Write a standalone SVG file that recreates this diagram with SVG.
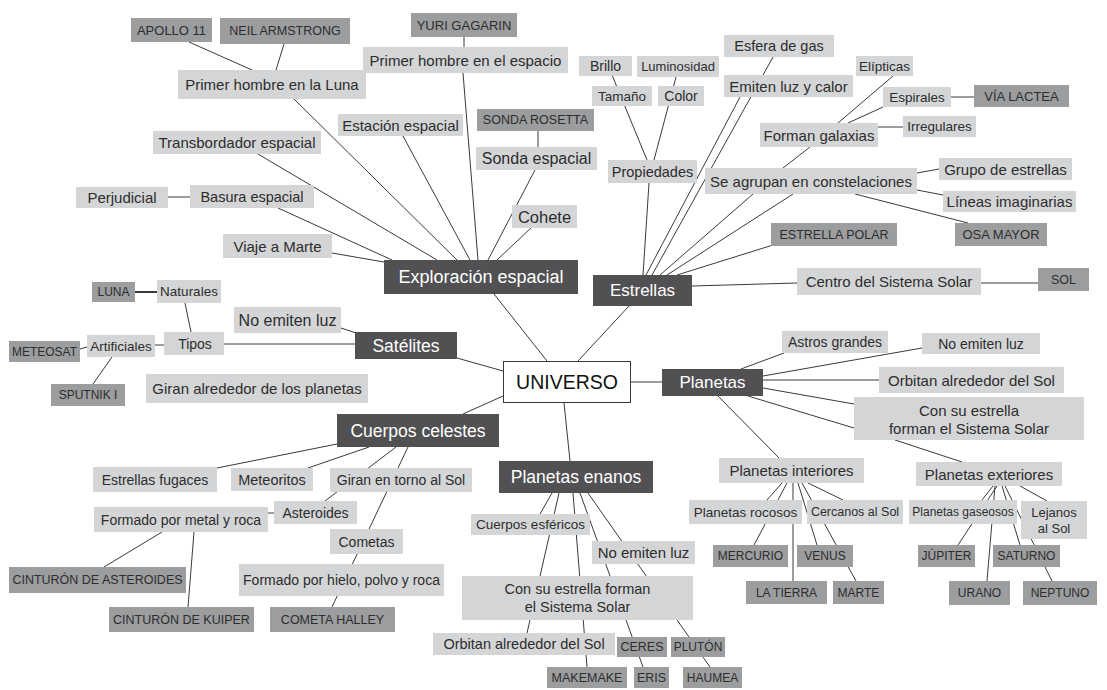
<svg xmlns="http://www.w3.org/2000/svg" width="1107" height="690" viewBox="0 0 1107 690">
<style>
.l{fill:#d4d5d6}
.d{fill:#9c9d9f}
.m{fill:#515153}
.u{fill:#fff;stroke:#3a3a3a;stroke-width:1}
#connectors line{stroke:#3a3a3a;stroke-width:1}
text{font-family:"Liberation Sans",Arial,sans-serif;text-anchor:middle;dominant-baseline:central;fill:#2d2d2d}
text.w{fill:#fff}
.f12{font-size:12px}.f125{font-size:12.5px}.f13{font-size:13px}.f135{font-size:13.5px}.f14{font-size:14px}.f145{font-size:14.5px}.f15{font-size:15px}.f16{font-size:16px}.f165{font-size:16.5px}.f17{font-size:17px}.f175{font-size:17.5px}.f18{font-size:18px}.f195{font-size:19.5px}
</style>
<rect width="1107" height="690" fill="#fff"/>
<g id="connectors">
<line x1="189" y1="42" x2="252" y2="70"/>
<line x1="284" y1="44" x2="276" y2="70"/>
<line x1="294" y1="99" x2="457" y2="260"/>
<line x1="464" y1="37" x2="464" y2="47"/>
<line x1="463" y1="73" x2="478" y2="260"/>
<line x1="403" y1="136" x2="470" y2="260"/>
<line x1="258" y1="154" x2="437" y2="260"/>
<line x1="168" y1="197" x2="190" y2="197"/>
<line x1="278" y1="208" x2="392" y2="260"/>
<line x1="538" y1="131" x2="538" y2="147"/>
<line x1="535" y1="170" x2="488" y2="260"/>
<line x1="532" y1="227" x2="497" y2="260"/>
<line x1="332" y1="253" x2="384" y2="262"/>
<line x1="494" y1="294" x2="547" y2="361"/>
<line x1="457" y1="358" x2="503" y2="371"/>
<line x1="341" y1="328" x2="356" y2="333"/>
<line x1="224" y1="344" x2="355" y2="344"/>
<line x1="130" y1="292" x2="157" y2="292" style="stroke-width:2"/>
<line x1="185" y1="303" x2="191" y2="332"/>
<line x1="155" y1="345" x2="164" y2="345"/>
<line x1="80" y1="349" x2="87" y2="347"/>
<line x1="112" y1="357" x2="93" y2="384"/>
<line x1="463" y1="414" x2="503" y2="396"/>
<line x1="337" y1="444" x2="217" y2="468"/>
<line x1="369" y1="447" x2="308" y2="468"/>
<line x1="396" y1="447" x2="325" y2="501"/>
<line x1="408" y1="447" x2="332" y2="607"/>
<line x1="268" y1="513" x2="274" y2="513"/>
<line x1="162" y1="532" x2="104" y2="567"/>
<line x1="194" y1="532" x2="188" y2="607"/>
<line x1="564" y1="403" x2="570" y2="461"/>
<line x1="552" y1="493" x2="540" y2="514"/>
<line x1="559" y1="493" x2="527" y2="633"/>
<line x1="573" y1="493" x2="587" y2="667"/>
<line x1="580" y1="493" x2="643" y2="667"/>
<line x1="588" y1="493" x2="710" y2="667"/>
<line x1="578" y1="361" x2="629" y2="306"/>
<line x1="649" y1="183" x2="643" y2="275"/>
<line x1="612" y1="75" x2="647" y2="160"/>
<line x1="676" y1="77" x2="654" y2="160"/>
<line x1="773" y1="57" x2="652" y2="275"/>
<line x1="740" y1="97" x2="646" y2="275"/>
<line x1="753" y1="194" x2="660" y2="275"/>
<line x1="793" y1="194" x2="667" y2="275"/>
<line x1="773" y1="245" x2="677" y2="275"/>
<line x1="692" y1="286" x2="797" y2="283"/>
<line x1="981" y1="283" x2="1038" y2="283"/>
<line x1="783" y1="168" x2="810" y2="147"/>
<line x1="838" y1="123" x2="893" y2="76"/>
<line x1="848" y1="123" x2="883" y2="107"/>
<line x1="878" y1="127" x2="903" y2="127"/>
<line x1="951" y1="97" x2="974" y2="97"/>
<line x1="917" y1="173" x2="939" y2="169"/>
<line x1="917" y1="190" x2="943" y2="195"/>
<line x1="855" y1="194" x2="968" y2="223"/>
<line x1="631" y1="382" x2="662" y2="382"/>
<line x1="741" y1="369" x2="784" y2="353"/>
<line x1="763" y1="376" x2="922" y2="348"/>
<line x1="763" y1="380" x2="879" y2="380"/>
<line x1="763" y1="388" x2="854" y2="404"/>
<line x1="748" y1="396" x2="854" y2="428"/>
<line x1="718" y1="396" x2="779" y2="458"/>
<line x1="895" y1="440" x2="962" y2="462"/>
<line x1="782" y1="483" x2="767" y2="500"/>
<line x1="787" y1="483" x2="754" y2="545"/>
<line x1="793" y1="483" x2="793" y2="581"/>
<line x1="798" y1="483" x2="817" y2="545"/>
<line x1="802" y1="483" x2="856" y2="581"/>
<line x1="808" y1="483" x2="843" y2="500"/>
<line x1="993" y1="486" x2="982" y2="500"/>
<line x1="997" y1="486" x2="958" y2="545"/>
<line x1="995" y1="486" x2="987" y2="581"/>
<line x1="1002" y1="486" x2="1020" y2="545"/>
<line x1="1005" y1="486" x2="1052" y2="581"/>
<line x1="1020" y1="486" x2="1047" y2="501"/>
</g>
<g id="n_apollo"><rect class="d" x="131" y="18" width="81" height="24"/><text class="f13" x="171.5" y="30">APOLLO 11</text></g>
<g id="n_neil"><rect class="d" x="220" y="18" width="130" height="26"/><text class="f125" x="285" y="31">NEIL ARMSTRONG</text></g>
<g id="n_luna1"><rect class="l" x="178" y="70" width="188" height="29"/><text class="f15" x="272" y="84.5">Primer hombre en la Luna</text></g>
<g id="n_yuri"><rect class="d" x="411" y="13" width="106" height="24"/><text class="f13" x="464" y="25">YURI GAGARIN</text></g>
<g id="n_espacio"><rect class="l" x="363" y="47" width="205" height="26"/><text class="f15" x="465.5" y="60">Primer hombre en el espacio</text></g>
<g id="n_estacion"><rect class="l" x="338" y="114" width="125" height="22"/><text class="f15" x="400.5" y="125">Estación espacial</text></g>
<g id="n_transb"><rect class="l" x="153" y="131" width="168" height="23"/><text class="f15" x="237" y="142.5">Transbordador espacial</text></g>
<g id="n_perj"><rect class="l" x="76" y="187" width="92" height="21"/><text class="f15" x="122" y="197.5">Perjudicial</text></g>
<g id="n_basura"><rect class="l" x="190" y="185" width="124" height="23"/><text class="f145" x="252" y="196.5">Basura espacial</text></g>
<g id="n_rosetta"><rect class="d" x="477" y="109" width="117" height="22"/><text class="f125" x="535.5" y="120">SONDA ROSETTA</text></g>
<g id="n_sonda"><rect class="l" x="476" y="147" width="121" height="23"/><text class="f16" x="536.5" y="158.5">Sonda espacial</text></g>
<g id="n_cohete"><rect class="l" x="512" y="205" width="65" height="23"/><text class="f165" x="544.5" y="216.5">Cohete</text></g>
<g id="n_viaje"><rect class="l" x="223" y="234" width="109" height="24"/><text class="f15" x="277.5" y="246">Viaje a Marte</text></g>
<g id="n_explor"><rect class="m" x="384" y="260" width="194" height="34"/><text class="f18 w" x="481" y="277">Exploración espacial</text></g>
<g id="n_sat"><rect class="m" x="355" y="332" width="102" height="27"/><text class="f175 w" x="406" y="345.5">Satélites</text></g>
<g id="n_sat_noluz"><rect class="l" x="234" y="307" width="107" height="26"/><text class="f16" x="287.5" y="320">No emiten luz</text></g>
<g id="n_tipos"><rect class="l" x="164" y="332" width="60" height="23"/><text class="f14" x="195" y="343.5">Tipos</text></g>
<g id="n_naturales"><rect class="l" x="157" y="280" width="64" height="23"/><text class="f135" x="189" y="291.5">Naturales</text></g>
<g id="n_lunasat"><rect class="d" x="92" y="282" width="43" height="20"/><text class="f12" x="113.5" y="292">LUNA</text></g>
<g id="n_artif"><rect class="l" x="87" y="335" width="68" height="22"/><text class="f135" x="121" y="346">Artificiales</text></g>
<g id="n_meteosat"><rect class="d" x="9" y="341" width="71" height="21"/><text class="f12" x="44.5" y="351.5">METEOSAT</text></g>
<g id="n_sputnik"><rect class="d" x="51" y="384" width="74" height="22"/><text class="f12" x="88" y="395">SPUTNIK I</text></g>
<g id="n_giran_plan"><rect class="l" x="146" y="374" width="222" height="29"/><text class="f15" x="257" y="388.5">Giran alrededor de los planetas</text></g>
<g id="n_universo"><rect class="u" x="503.5" y="361.5" width="127" height="41"/><text class="f195" x="567" y="382" style="fill:#111">UNIVERSO</text></g>
<g id="n_estrellas"><rect class="m" x="593" y="275" width="99" height="31"/><text class="f17 w" x="642.5" y="290.5">Estrellas</text></g>
<g id="n_brillo"><rect class="l" x="579" y="56" width="53" height="20"/><text class="f14" x="605.5" y="66">Brillo</text></g>
<g id="n_lumin"><rect class="l" x="637" y="56" width="82" height="21"/><text class="f13" x="678" y="66.5">Luminosidad</text></g>
<g id="n_tamano"><rect class="l" x="592" y="86" width="60" height="20"/><text class="f135" x="622" y="96">Tamaño</text></g>
<g id="n_color"><rect class="l" x="658" y="86" width="46" height="20"/><text class="f14" x="681" y="96">Color</text></g>
<g id="n_prop"><rect class="l" x="608" y="160" width="89" height="23"/><text class="f145" x="652.5" y="171.5">Propiedades</text></g>
<g id="n_esfera"><rect class="l" x="724" y="35" width="110" height="22"/><text class="f145" x="779" y="46">Esfera de gas</text></g>
<g id="n_emiten"><rect class="l" x="724" y="75" width="129" height="22"/><text class="f15" x="788.5" y="86">Emiten luz y calor</text></g>
<g id="n_elipticas"><rect class="l" x="856" y="56" width="57" height="20"/><text class="f135" x="884.5" y="66">Elípticas</text></g>
<g id="n_espirales"><rect class="l" x="883" y="87" width="68" height="20"/><text class="f135" x="917" y="97">Espirales</text></g>
<g id="n_via"><rect class="d" x="974" y="85" width="95" height="22"/><text class="f13" x="1021.5" y="96">VÍA LACTEA</text></g>
<g id="n_irreg"><rect class="l" x="903" y="116" width="73" height="21"/><text class="f135" x="939.5" y="126.5">Irregulares</text></g>
<g id="n_galaxias"><rect class="l" x="760" y="123" width="118" height="24"/><text class="f15" x="819" y="135">Forman galaxias</text></g>
<g id="n_constel"><rect class="l" x="705" y="168" width="212" height="26"/><text class="f15" x="811" y="181">Se agrupan en constelaciones</text></g>
<g id="n_grupo"><rect class="l" x="939" y="158" width="133" height="22"/><text class="f15" x="1005.5" y="169">Grupo de estrellas</text></g>
<g id="n_lineas"><rect class="l" x="943" y="191" width="133" height="21"/><text class="f15" x="1009.5" y="201.5">Líneas imaginarias</text></g>
<g id="n_osa"><rect class="d" x="955" y="223" width="92" height="23"/><text class="f13" x="1001" y="234.5">OSA MAYOR</text></g>
<g id="n_polar"><rect class="d" x="771" y="223" width="126" height="23"/><text class="f125" x="834" y="234.5">ESTRELLA POLAR</text></g>
<g id="n_centro"><rect class="l" x="797" y="268" width="184" height="27"/><text class="f15" x="889" y="281.5">Centro del Sistema Solar</text></g>
<g id="n_sol"><rect class="d" x="1038" y="268" width="51" height="23"/><text class="f125" x="1063.5" y="279.5">SOL</text></g>
<g id="n_planetas"><rect class="m" x="662" y="369" width="101" height="27"/><text class="f17 w" x="712.5" y="382.5">Planetas</text></g>
<g id="n_astros"><rect class="l" x="782" y="331" width="106" height="22"/><text class="f14" x="835" y="342">Astros grandes</text></g>
<g id="n_pl_noluz"><rect class="l" x="922" y="333" width="118" height="21"/><text class="f14" x="981" y="343.5">No emiten luz</text></g>
<g id="n_pl_orbitan"><rect class="l" x="879" y="367" width="185" height="26"/><text class="f15" x="971.5" y="380">Orbitan alrededor del Sol</text></g>
<g id="n_pl_consu"><rect class="l" x="854" y="397" width="230" height="43"/><text class="f15" x="969"><tspan x="969" y="410">Con su estrella</tspan><tspan x="969" y="428">forman el Sistema Solar</tspan></text></g>
<g id="n_interiores"><rect class="l" x="719" y="458" width="145" height="25"/><text class="f15" x="791.5" y="470.5">Planetas interiores</text></g>
<g id="n_rocosos"><rect class="l" x="689" y="500" width="113" height="24"/><text class="f135" x="745.5" y="512">Planetas rocosos</text></g>
<g id="n_cercanos"><rect class="l" x="807" y="500" width="96" height="24"/><text class="f125" x="855" y="512">Cercanos al Sol</text></g>
<g id="n_mercurio"><rect class="d" x="713" y="545" width="75" height="22"/><text class="f12" x="750.5" y="556">MERCURIO</text></g>
<g id="n_venus"><rect class="d" x="797" y="545" width="56" height="22"/><text class="f12" x="825" y="556">VENUS</text></g>
<g id="n_tierra"><rect class="d" x="746" y="581" width="81" height="23"/><text class="f12" x="786.5" y="592.5">LA TIERRA</text></g>
<g id="n_marte"><rect class="d" x="833" y="581" width="51" height="23"/><text class="f12" x="858.5" y="592.5">MARTE</text></g>
<g id="n_exteriores"><rect class="l" x="916" y="462" width="146" height="24"/><text class="f15" x="989" y="474">Planetas exteriores</text></g>
<g id="n_gaseosos"><rect class="l" x="909" y="500" width="108" height="24"/><text class="f12" x="963" y="512">Planetas gaseosos</text></g>
<g id="n_lejanos"><rect class="l" x="1021" y="501" width="66" height="38"/><text class="f13" x="1054"><tspan x="1054" y="512">Lejanos</tspan><tspan x="1054" y="528">al Sol</tspan></text></g>
<g id="n_jupiter"><rect class="d" x="918" y="545" width="57" height="22"/><text class="f12" x="946.5" y="556">JÚPITER</text></g>
<g id="n_saturno"><rect class="d" x="993" y="545" width="67" height="22"/><text class="f12" x="1026.5" y="556">SATURNO</text></g>
<g id="n_urano"><rect class="d" x="949" y="581" width="61" height="24"/><text class="f12" x="979.5" y="593">URANO</text></g>
<g id="n_neptuno"><rect class="d" x="1023" y="581" width="74" height="24"/><text class="f12" x="1060" y="593">NEPTUNO</text></g>
<g id="n_cuerpos"><rect class="m" x="337" y="414" width="162" height="33"/><text class="f175 w" x="418" y="430.5">Cuerpos celestes</text></g>
<g id="n_fugaces"><rect class="l" x="93" y="467" width="124" height="25"/><text class="f14" x="155" y="479.5">Estrellas fugaces</text></g>
<g id="n_meteoritos"><rect class="l" x="231" y="468" width="82" height="23"/><text class="f145" x="272" y="479.5">Meteoritos</text></g>
<g id="n_giran_sol"><rect class="l" x="330" y="468" width="142" height="24"/><text class="f14" x="401" y="480">Giran en torno al Sol</text></g>
<g id="n_asteroides"><rect class="l" x="274" y="501" width="83" height="23"/><text class="f14" x="315.5" y="512.5">Asteroides</text></g>
<g id="n_metal"><rect class="l" x="94" y="507" width="174" height="25"/><text class="f14" x="181" y="519.5">Formado por metal y roca</text></g>
<g id="n_cint_ast"><rect class="d" x="9" y="567" width="177" height="26"/><text class="f125" x="97.5" y="580">CINTURÓN DE ASTEROIDES</text></g>
<g id="n_kuiper"><rect class="d" x="109" y="607" width="145" height="25"/><text class="f125" x="181.5" y="619.5">CINTURÓN DE KUIPER</text></g>
<g id="n_cometas"><rect class="l" x="330" y="529" width="73" height="25"/><text class="f14" x="366.5" y="541.5">Cometas</text></g>
<g id="n_hielo"><rect class="l" x="239" y="564" width="205" height="32"/><text class="f14" x="341.5" y="580">Formado por hielo, polvo y roca</text></g>
<g id="n_halley"><rect class="d" x="270" y="607" width="125" height="25"/><text class="f125" x="332.5" y="619.5">COMETA HALLEY</text></g>
<g id="n_enanos"><rect class="m" x="499" y="461" width="154" height="32"/><text class="f175 w" x="576" y="477">Planetas enanos</text></g>
<g id="n_esfericos"><rect class="l" x="471" y="514" width="119" height="21"/><text class="f135" x="530.5" y="524.5">Cuerpos esféricos</text></g>
<g id="n_en_noluz"><rect class="l" x="592" y="541" width="103" height="23"/><text class="f15" x="643.5" y="552.5">No emiten luz</text></g>
<g id="n_en_consu"><rect class="l" x="462" y="576" width="231" height="44"/><text class="f145" x="577.5"><tspan x="577.5" y="589">Con su estrella forman</tspan><tspan x="577.5" y="607">el Sistema Solar</tspan></text></g>
<g id="n_en_orbitan"><rect class="l" x="433" y="633" width="182" height="22"/><text class="f145" x="524" y="644">Orbitan alrededor del Sol</text></g>
<g id="n_ceres"><rect class="d" x="617" y="637" width="50" height="20"/><text class="f125" x="642" y="647">CERES</text></g>
<g id="n_pluton"><rect class="d" x="671" y="637" width="54" height="20"/><text class="f12" x="698" y="647">PLUTÓN</text></g>
<g id="n_makemake"><rect class="d" x="547" y="667" width="80" height="21"/><text class="f125" x="587" y="677.5">MAKEMAKE</text></g>
<g id="n_eris"><rect class="d" x="634" y="667" width="35" height="21"/><text class="f125" x="651.5" y="677.5">ERIS</text></g>
<g id="n_haumea"><rect class="d" x="683" y="667" width="59" height="21"/><text class="f12" x="712.5" y="677.5">HAUMEA</text></g>
</svg>
